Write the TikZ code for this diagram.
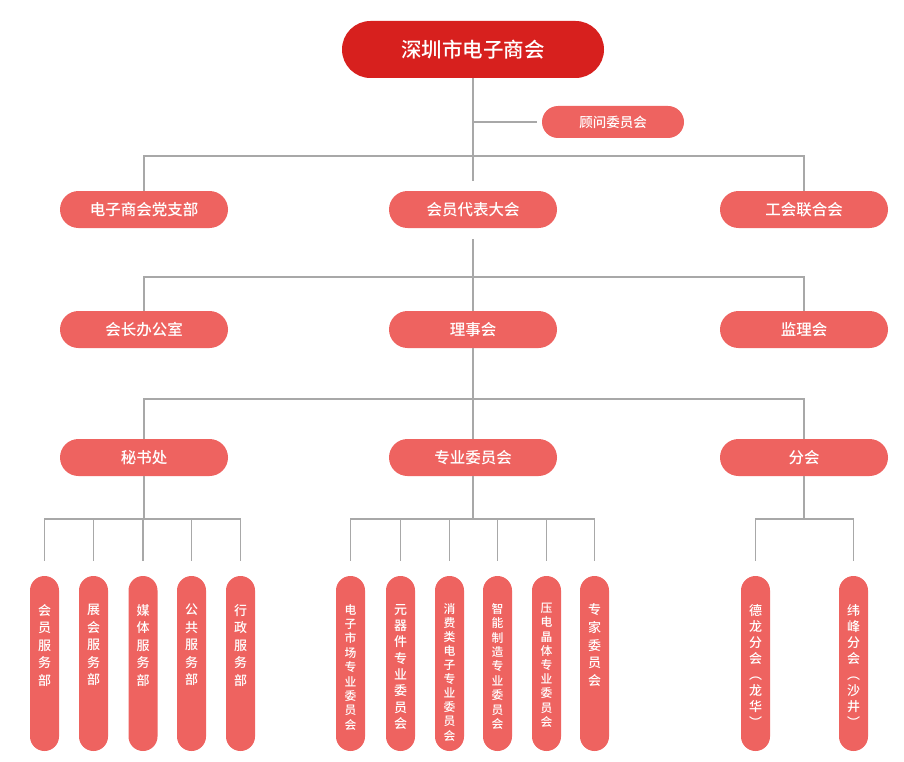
\documentclass[tikz,border=0pt]{standalone}
\usepackage{fontspec}
\newfontfamily\cjk{Noto Sans CJK SC}[UprightFont={* Medium}, BoldFont={* Bold}]
\definecolor{rootred}{RGB}{215,32,30}
\definecolor{pillred}{RGB}{238,99,96}
\definecolor{linegray}{RGB}{168,168,168}
\tikzset{
  conn/.style={draw=linegray, line width=1.8pt},
  rootpill/.style={fill=rootred, rounded corners=28.5pt, minimum width=262pt, minimum height=57pt, inner sep=0pt, text=white, font=\cjk\fontsize{20.5}{24}\selectfont},
  advpill/.style={fill=pillred, rounded corners=16pt, minimum width=142pt, minimum height=32pt, inner sep=0pt, text=white, font=\cjk\fontsize{13.5}{16}\selectfont},
  hpill/.style={fill=pillred, rounded corners=18.5pt, minimum width=168pt, minimum height=37pt, inner sep=0pt, text=white, font=\cjk\fontsize{15.5}{18}\selectfont},
  vpill/.style={fill=pillred, rounded corners=14.5pt, minimum width=29pt, minimum height=175pt, inner sep=0pt},
  vtext/.style={anchor=north, inner sep=0pt, align=center, text=white, font=\cjk\fontsize{13}{#1}\selectfont},
  vtexts/.style={anchor=north, inner sep=0pt, align=center, text=white, font=\cjk\fontsize{11.8}{#1}\selectfont},
}
\begin{document}
\begin{tikzpicture}[x=1pt, y=-1pt]
\useasboundingbox (0,0) rectangle (904,762);
% nodes
\node[rootpill] (root) at (473,49.5) {深圳市电子商会};
\node[advpill] (adv) at (613,122) {顾问委员会};
\node[hpill] (dang) at (144,209.5) {电子商会党支部};
\node[hpill] (daibiao) at (473,209.5) {会员代表大会};
\node[hpill] (gonghui) at (804,209.5) {工会联合会};
\node[hpill] (huizhang) at (144,329.5) {会长办公室};
\node[hpill] (lishi) at (473,329.5) {理事会};
\node[hpill] (jianshi) at (804,329.5) {监理会};
\node[hpill] (mishu) at (144,457.5) {秘书处};
\node[hpill] (zhuanye) at (473,457.5) {专业委员会};
\node[hpill] (fenhui) at (804,457.5) {分会};
% vertical pills
\node[vpill] (a1) at (44.5,663.5) {};
\node[vpill] (a2) at (93.5,663.5) {};
\node[vpill] (a3) at (143,663.5) {};
\node[vpill] (a4) at (191.5,663.5) {};
\node[vpill] (a5) at (240.5,663.5) {};
\node[vpill] (b1) at (350.5,663.5) {};
\node[vpill] (b2) at (400.5,663.5) {};
\node[vpill] (b3) at (449.5,663.5) {};
\node[vpill] (b4) at (497.5,663.5) {};
\node[vpill] (b5) at (546.5,663.5) {};
\node[vpill] (b6) at (594.5,663.5) {};
\node[vpill] (c1) at (755.5,663.5) {};
\node[vpill] (c2) at (853.5,663.5) {};
% vertical texts
\node[vtext=17.5] (ta1) at (44.5,604) {会\\员\\服\\务\\部};
\node[vtext=17.5] (ta2) at (93.5,604) {展\\会\\服\\务\\部};
\node[vtext=17.5] (ta3) at (143,604) {媒\\体\\服\\务\\部};
\node[vtext=17.5] (ta4) at (191.5,604) {公\\共\\服\\务\\部};
\node[vtext=17.5] (ta5) at (240.5,604) {行\\政\\服\\务\\部};
\node[vtexts=14.4] (tb1) at (350.5,604) {电\\子\\市\\场\\专\\业\\委\\员\\会};
\node[vtext=16.3] (tb2) at (400.5,604) {元\\器\\件\\专\\业\\委\\员\\会};
\node[vtexts=14.1] (tb3) at (449.5,603) {消\\费\\类\\电\\子\\专\\业\\委\\员\\会};
\node[vtexts=14.4] (tb4) at (497.5,603) {智\\能\\制\\造\\专\\业\\委\\员\\会};
\node[vtexts=14.2] (tb5) at (546.5,603) {压\\电\\晶\\体\\专\\业\\委\\员\\会};
\node[vtext=17.9] (tb6) at (594.5,603) {专\\家\\委\\员\\会};
\node[vtext=16] (tc1) at (755.5,604) {德\\龙\\分\\会\\︵\\龙\\华\\︶};
\node[vtext=16] (tc2) at (853.5,604) {纬\\峰\\分\\会\\︵\\沙\\井\\︶};
% junction coordinates
\coordinate (advj) at (473,122);
\coordinate (hub1) at (473,156);
\coordinate (hub2) at (473,277);
\coordinate (hub3) at (473,399);
\coordinate (h4) at (144,519);
\coordinate (h5) at (473,519);
\coordinate (h6) at (804,519);
\foreach \n in {a1,a2,a3,a4,a5,b1,b2,b3,b4,b5,b6,c1,c2}
  \coordinate (d\n) at ([yshift=15pt]\n.north);
% connectors
\draw[conn, shorten >=10pt] (root.south) -- (daibiao.north);
\draw[conn, shorten >=5pt] (advj) -- (adv.west);
\draw[conn] (dang.north) |- (hub1) -| (gonghui.north);
\draw[conn, shorten <=11pt] (daibiao.south) -- (hub2);
\draw[conn] (hub2) -- (lishi.north);
\draw[conn] (huizhang.north) |- (hub2) -| (jianshi.north);
\draw[conn] (lishi.south) -- (zhuanye.north);
\draw[conn] (mishu.north) |- (hub3) -| (fenhui.north);
\draw[conn] (mishu.south) -- (h4);
\foreach \n in {a1,a2,a3,a4,a5} \draw[conn] (h4) -| (d\n);
\draw[conn] (zhuanye.south) -- (h5);
\foreach \n in {b1,b2,b3,b4,b5,b6} \draw[conn] (h5) -| (d\n);
\draw[conn] (fenhui.south) -- (h6);
\foreach \n in {c1,c2} \draw[conn] (h6) -| (d\n);
\end{tikzpicture}
\end{document}
